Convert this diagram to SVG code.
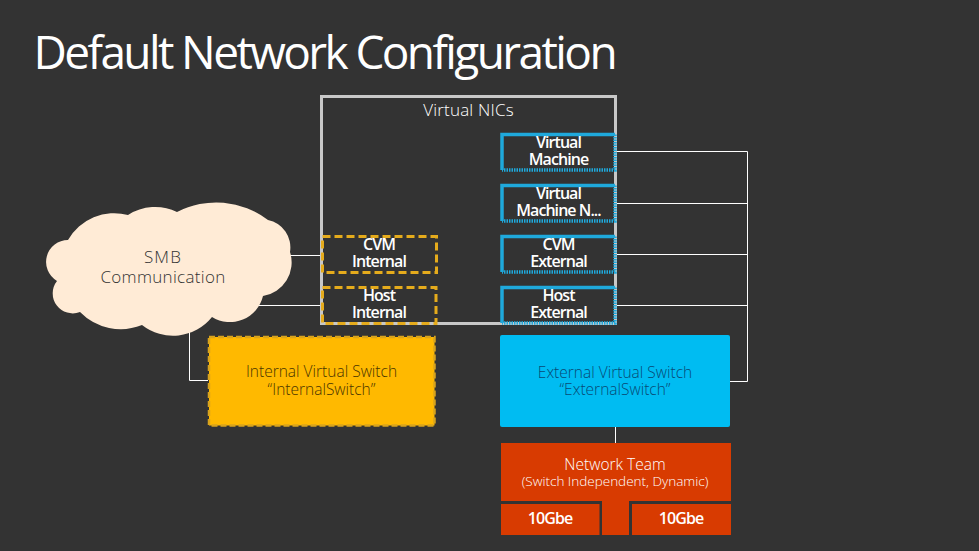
<svg xmlns="http://www.w3.org/2000/svg" width="979" height="551" viewBox="0 0 979 551">
<style>
text{font-family:"Open Sans","Noto Sans","Liberation Sans",sans-serif;text-anchor:middle}
.t{font-size:16px;font-weight:600;fill:#fff;letter-spacing:-.95px}
.l{font-size:15.500px;font-weight:300}
.w{font-size:17px;font-weight:300}
.c{fill:none;stroke:#fff;stroke-width:1}
.nb{fill:none;stroke:#1fa9dc;stroke-width:3.500}
.nd{fill:none;stroke:#1fa9dc;stroke-width:3.500;stroke-dasharray:1.500 1}
.ny{fill:none;stroke:#e5ab1c;stroke-width:3;stroke-dasharray:8 4}
</style>
<rect width="979" height="551" fill="#333"/>
<text id="title" x="33.500" y="69" style="text-anchor:start;font-size:46px;font-weight:400;letter-spacing:-2.600px" fill="#fff">Default Network Configuration</text>
<g id="connectors">
<path class="c" d="M616 151.500H747.500V381.500H730M616 203.500H747.500M616 254.500H747.500M616 305.500H747.500"/>
<path class="c" d="M290 255.500H322M258 305.500H322M189.500 330V380.500H208M615.500 427V443"/>
</g>
<g id="virtual-nics"><rect x="321.500" y="96.500" width="294" height="227" fill="none" stroke="#c8c8c8" stroke-width="3"/>
<text x="468.500" y="116" class="w" fill="#fff" letter-spacing=".2">Virtual NICs</text></g>
<g id="vnic-vm"><path class="nb" d="M615 134.500H502V170"/><path class="nd" d="M615 134.500V170H502"/><text class="t"><tspan x="558.500" y="148">Virtual</tspan><tspan x="558.500" y="165">Machine</tspan></text></g>
<g id="vnic-vmn"><path class="nb" d="M615 185.500H502V221"/><path class="nd" d="M615 185.500V221H502"/><text class="t"><tspan x="558.500" y="199">Virtual</tspan><tspan x="558.500" y="216">Machine N...</tspan></text></g>
<g id="vnic-cvm-ext"><path class="nb" d="M615 236.500H502V272"/><path class="nd" d="M615 236.500V272H502"/><text class="t"><tspan x="558.500" y="250">CVM</tspan><tspan x="558.500" y="267">External</tspan></text></g>
<g id="vnic-host-ext"><path class="nb" d="M615 287.500H502V323"/><path class="nd" d="M615 287.500V323H502"/><text class="t"><tspan x="558.500" y="301">Host</tspan><tspan x="558.500" y="318">External</tspan></text></g>
<g id="vnic-cvm-int"><rect x="322.500" y="236.500" width="114" height="36" class="ny"/><text class="t"><tspan x="379" y="250">CVM</tspan><tspan x="379" y="267">Internal</tspan></text></g>
<g id="vnic-host-int"><rect x="322.500" y="287.500" width="113.500" height="36" class="ny"/><text class="t"><tspan x="379" y="301">Host</tspan><tspan x="379" y="318">Internal</tspan></text></g>
<g id="smb-cloud"><path fill="#ffebd6" d="M68 240A53 53 0 0 1 128 215A50 50 0 0 1 177 212A85 85 0 0 1 268 220A28 28 0 0 1 290 252A34 34 0 0 1 263 296A34 34 0 0 1 212 317A50 50 0 0 1 142 325A57 57 0 0 1 80 312A20 20 0 0 1 57 281A22 22 0 0 1 68 240Z"/>
<text class="w" fill="#333"><tspan x="163" y="263" letter-spacing="1.200">SMB</tspan><tspan x="163" y="283" letter-spacing=".3">Communication</tspan></text></g>
<g id="internal-switch"><rect x="209" y="337" width="225.500" height="88.500" fill="#ffb900" stroke="#d9a41c" stroke-width="2.500" stroke-dasharray="6 3"/>
<text class="l" fill="#4a3500"><tspan x="321.500" y="377">Internal Virtual Switch</tspan><tspan x="321.500" y="395">“InternalSwitch”</tspan></text></g>
<g id="external-switch"><rect x="500" y="335" width="230" height="92" rx="2" fill="#00bcf2"/>
<text class="l" fill="#084a75"><tspan x="615" y="378">External Virtual Switch</tspan><tspan x="615" y="395">“ExternalSwitch”</tspan></text></g>
<g id="network-team"><path fill="#d83b01" d="M501 443H731V501H629V535H602V501H501Z"/>
<text fill="#fff" style="font-weight:300"><tspan class="l" x="615" y="470">Network Team</tspan><tspan x="615" y="486" style="font-size:13.500px">(Switch Independent, Dynamic)</tspan></text></g>
<g id="nic-1"><rect x="501" y="504" width="98.500" height="31" fill="#d83b01"/><text class="t" x="550" y="524">10Gbe</text></g>
<g id="nic-2"><rect x="632" y="504" width="99" height="31" fill="#d83b01"/><text class="t" x="681" y="524">10Gbe</text></g>
</svg>
